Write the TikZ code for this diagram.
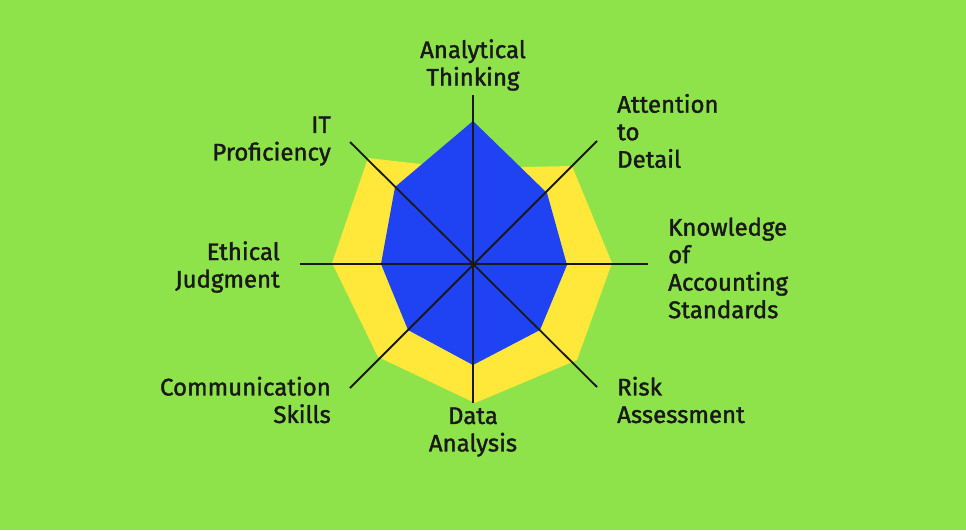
\documentclass[tikz,border=0pt]{standalone}
\usepackage{fontspec}
\setmainfont{Fira Sans}[FakeBold=1.5]
\definecolor{bg}{HTML}{8EE24A}
\definecolor{yel}{HTML}{FFE83A}
\definecolor{blu}{HTML}{1F43F2}
\tikzset{lbl/.style={font=\fontsize{24}{27.5}\selectfont, text=black!90, inner sep=0pt},
 axis/.style={draw=black!90, line width=1.8pt}}
\begin{document}
\begin{tikzpicture}[x=1pt,y=-1pt]
\fill[bg] (0,0) rectangle (966,530);
\useasboundingbox (0,0) rectangle (966,530);
\coordinate (c) at (473,264);
\fill[yel] (473,170) -- (368,158) -- (332,263) -- (378,357) -- (475,403) -- (577,360) -- (612,263) -- (572,166) -- (522,167) -- cycle;
\fill[blu] (473,121) -- (547,193) -- (567,265) -- (540,330) -- (473,365) -- (408,330) -- (381,264) -- (395,187) -- cycle;
\coordinate (n) at (473,95); \coordinate (s) at (473,403);
\coordinate (w) at (300,264); \coordinate (e) at (648,264);
\coordinate (nw) at (350,142); \coordinate (se) at (597,387);
\coordinate (ne) at (597,141); \coordinate (sw) at (350,388);
\draw[axis] (n) -- (s); \draw[axis] (w) -- (e);
\draw[axis] (nw) -- (se); \draw[axis] (ne) -- (sw);
\node[lbl, align=center] (t1) at (473,65) {Analytical\\Thinking};
\node[lbl, align=left, anchor=west] (t2) at (617,131) {Attention\\to\\Detail};
\node[lbl, align=left, anchor=west] (t3) at (668,268) {Knowledge\\of\\Accounting\\Standards};
\node[lbl, align=left, anchor=west] (t4) at (617,400) {Risk\\Assessment};
\node[lbl, align=center] (t5) at (473,432) {Data\\Analysis};
\node[lbl, align=right, anchor=east] (t6) at (331,400) {Communication\\Skills};
\node[lbl, align=right, anchor=east] (t7) at (280,267) {Ethical\\Judgment};
\node[lbl, align=right, anchor=east] (t8) at (331,141) {IT\\Proficiency};
\end{tikzpicture}
\end{document}
